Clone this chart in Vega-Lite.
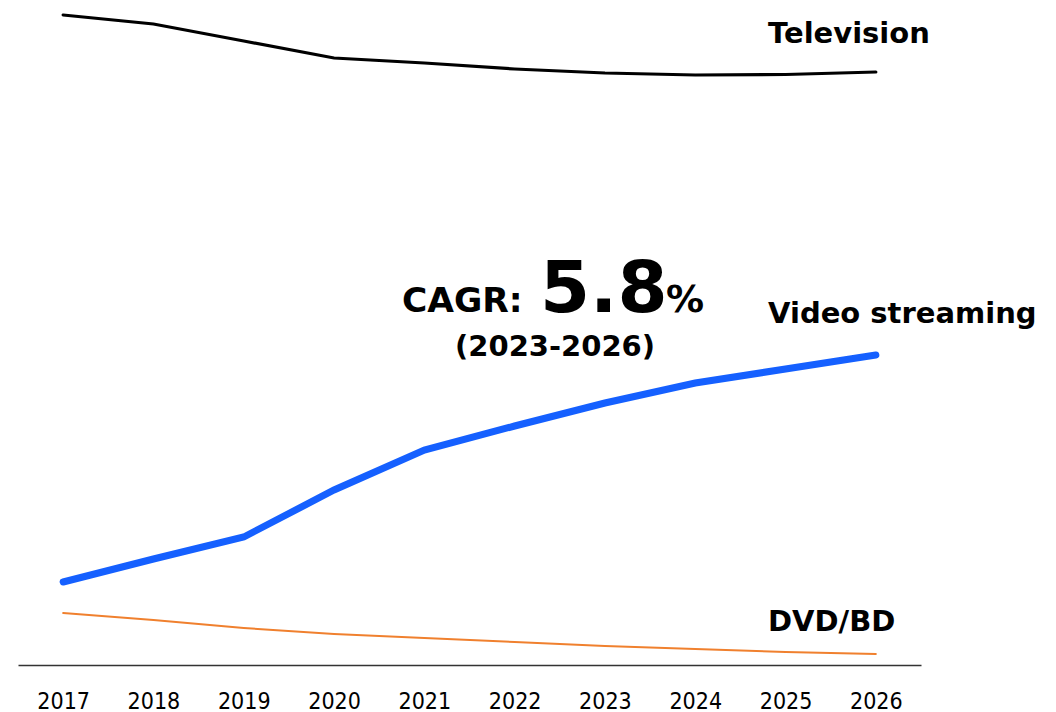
{
  "$schema": "https://vega.github.io/schema/vega-lite/v6.json",
  "width": 903,
  "height": 665,
  "autosize": {"type": "none"},
  "padding": {"left": 18, "top": 0, "right": 135, "bottom": 47},
  "background": "white",
  "config": {"view": {"stroke": null}},
  "datasets": {
    "series": [
      {"year": 2017, "series": "Television", "value": 650},
      {"year": 2018, "series": "Television", "value": 641},
      {"year": 2019, "series": "Television", "value": 624},
      {"year": 2020, "series": "Television", "value": 607},
      {"year": 2021, "series": "Television", "value": 602},
      {"year": 2022, "series": "Television", "value": 596},
      {"year": 2023, "series": "Television", "value": 592},
      {"year": 2024, "series": "Television", "value": 590},
      {"year": 2025, "series": "Television", "value": 590.5},
      {"year": 2026, "series": "Television", "value": 593},
      {"year": 2017, "series": "Video streaming", "value": 83},
      {"year": 2018, "series": "Video streaming", "value": 106},
      {"year": 2019, "series": "Video streaming", "value": 128},
      {"year": 2020, "series": "Video streaming", "value": 175},
      {"year": 2021, "series": "Video streaming", "value": 215},
      {"year": 2022, "series": "Video streaming", "value": 239},
      {"year": 2023, "series": "Video streaming", "value": 262},
      {"year": 2024, "series": "Video streaming", "value": 282},
      {"year": 2025, "series": "Video streaming", "value": 296},
      {"year": 2026, "series": "Video streaming", "value": 310},
      {"year": 2017, "series": "DVD/BD", "value": 52},
      {"year": 2018, "series": "DVD/BD", "value": 45},
      {"year": 2019, "series": "DVD/BD", "value": 37},
      {"year": 2020, "series": "DVD/BD", "value": 31},
      {"year": 2021, "series": "DVD/BD", "value": 27},
      {"year": 2022, "series": "DVD/BD", "value": 23},
      {"year": 2023, "series": "DVD/BD", "value": 19},
      {"year": 2024, "series": "DVD/BD", "value": 16},
      {"year": 2025, "series": "DVD/BD", "value": 13},
      {"year": 2026, "series": "DVD/BD", "value": 11}
    ],
    "labels": [
      {"label": "Television", "year": 2024.806, "value": 622},
      {"label": "Video streaming", "year": 2024.806, "value": 342},
      {"label": "DVD/BD", "year": 2024.806, "value": 34}
    ],
    "cagr": [{"label": "CAGR:", "year": 2020.752, "value": 353}],
    "big": [{"label": "5.8", "year": 2022.281, "value": 353}],
    "pct": [{"label": "%", "year": 2023.676, "value": 353}],
    "period": [{"label": "(2023-2026)", "year": 2022.447, "value": 309}]
  },
  "layer": [
    {
      "data": {"name": "series"},
      "mark": {"type": "line", "strokeCap": "round", "interpolate": "linear"},
      "encoding": {
        "x": {
          "field": "year", "type": "quantitative",
          "scale": {"domain": [2016.5, 2026.5], "nice": false, "zero": false},
          "axis": {
            "title": null, "values": [2017, 2018, 2019, 2020, 2021, 2022, 2023, 2024, 2025, 2026],
            "format": "d", "grid": false, "ticks": false,
            "domainColor": "#333333", "domainWidth": 1.5, "domainOpacity": 1,
            "labelFont": "DejaVu Sans Condensed, Liberation Sans, sans-serif", "labelFontSize": 23, "labelColor": "#000000",
            "labelPadding": 25, "labelFlush": false
          }
        },
        "y": {
          "field": "value", "type": "quantitative",
          "scale": {"domain": [0, 665], "nice": false},
          "axis": null
        },
        "color": {
          "field": "series", "type": "nominal",
          "scale": {"domain": ["Television", "Video streaming", "DVD/BD"], "range": ["#000000", "#1560ff", "#f0802e"]},
          "legend": null
        },
        "strokeWidth": {
          "field": "series", "type": "nominal",
          "scale": {"type": "ordinal", "domain": ["Television", "Video streaming", "DVD/BD"], "range": [3.2, 7, 2]},
          "legend": null
        }
      }
    },
    {
      "data": {"name": "labels"},
      "mark": {"type": "text", "align": "left", "baseline": "alphabetic", "font": "DejaVu Sans", "fontWeight": "bold", "fontSize": 29, "color": "#000000"},
      "encoding": {
        "x": {"field": "year", "type": "quantitative"},
        "y": {"field": "value", "type": "quantitative"},
        "text": {"field": "label"}
      }
    },
    {
      "data": {"name": "cagr"},
      "mark": {"type": "text", "align": "left", "baseline": "alphabetic", "font": "DejaVu Sans", "fontWeight": "bold", "fontSize": 34.5, "color": "#000000"},
      "encoding": {
        "x": {"field": "year", "type": "quantitative"},
        "y": {"field": "value", "type": "quantitative"},
        "text": {"field": "label"}
      }
    },
    {
      "data": {"name": "big"},
      "mark": {"type": "text", "align": "left", "baseline": "alphabetic", "font": "DejaVu Sans", "fontWeight": "bold", "fontSize": 72, "color": "#000000"},
      "encoding": {
        "x": {"field": "year", "type": "quantitative"},
        "y": {"field": "value", "type": "quantitative"},
        "text": {"field": "label"}
      }
    },
    {
      "data": {"name": "pct"},
      "mark": {"type": "text", "align": "left", "baseline": "alphabetic", "font": "DejaVu Sans", "fontWeight": "bold", "fontSize": 38, "color": "#000000"},
      "encoding": {
        "x": {"field": "year", "type": "quantitative"},
        "y": {"field": "value", "type": "quantitative"},
        "text": {"field": "label"}
      }
    },
    {
      "data": {"name": "period"},
      "mark": {"type": "text", "align": "center", "baseline": "alphabetic", "font": "DejaVu Sans", "fontWeight": "bold", "fontSize": 29, "color": "#000000"},
      "encoding": {
        "x": {"field": "year", "type": "quantitative"},
        "y": {"field": "value", "type": "quantitative"},
        "text": {"field": "label"}
      }
    }
  ]
}
